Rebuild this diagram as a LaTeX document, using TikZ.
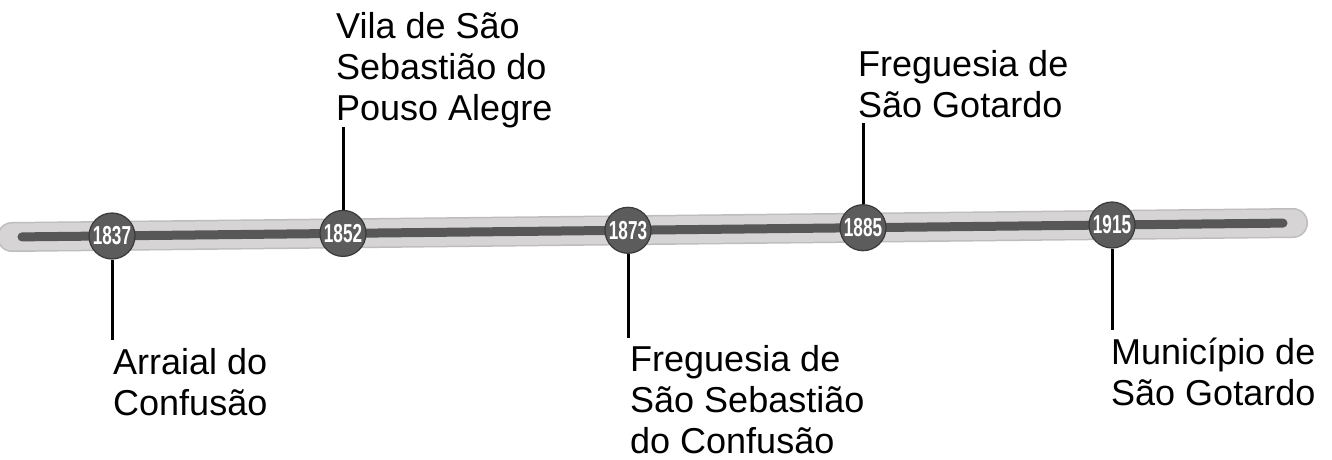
\documentclass[tikz,border=0pt]{standalone}
\usepackage{fontspec}
\usepackage{graphicx}
\setmainfont{Liberation Sans}
\usetikzlibrary{calc}
\definecolor{barEdge}{HTML}{BDBDBD}
\definecolor{barLight}{HTML}{D6D4D4}
\definecolor{barDark}{HTML}{575757}
\definecolor{ballFill}{HTML}{5C5C5C}
\definecolor{ballEdge}{HTML}{3A3A3A}
\begin{document}
\begin{tikzpicture}[x=1pt,y=1pt,
  ball/.style={circle, minimum size=46pt, inner sep=0pt, fill=ballFill, draw=ballEdge, line width=1.2pt,
    text=white, font=\fontsize{26}{26}\selectfont\bfseries},
  stem/.style={line width=3pt, black},
  lbl/.style={anchor=base west, inner sep=0pt, align=left, font=\fontsize{36}{41}\selectfont}]
\useasboundingbox (0,0) rectangle (1332,459);
\fill[white] (0,0) rectangle (1332,459);
% bar
\coordinate (L) at (12,222);
\coordinate (R) at (1293,236);
\draw[line width=30pt, line cap=round, barEdge] (L) -- (R);
\draw[line width=27pt, line cap=round, barLight] (L) -- (R);
\draw[line width=9pt, line cap=round, barDark] ($(L)!10pt!(R)$) -- ($(R)!10pt!(L)$);
% balls
\node[ball] (y1837) at (112,223) {\scalebox{0.66}[1]{1837}};
\node[ball] (y1852) at (343,225.6) {\scalebox{0.66}[1]{1852}};
\node[ball] (y1873) at (628,228.7) {\scalebox{0.66}[1]{1873}};
\node[ball] (y1885) at (863,231.3) {\scalebox{0.66}[1]{1885}};
\node[ball] (y1915) at (1112,234) {\scalebox{0.66}[1]{1915}};
% stem ends
\coordinate (e1837) at (112,119);
\coordinate (e1852) at (343,332);
\coordinate (e1873) at (628,121);
\coordinate (e1885) at (863,336);
\coordinate (e1915) at (1112,129);
\draw[stem] (y1837.south) -- (e1837);
\draw[stem] (y1852.north) -- (e1852);
\draw[stem] (y1873.south) -- (e1873);
\draw[stem] (y1885.north) -- (e1885);
\draw[stem] (y1915.south) -- (e1915);
% labels (anchor = baseline of the last line)
\node[lbl] (t1837) at (113,44) {Arraial do\\Confusão};
\node[lbl] (t1852) at (336,339) {Vila de São\\Sebastião do\\Pouso Alegre};
\node[lbl] (t1873) at (630,6) {Freguesia de\\São Sebastião\\do Confusão};
\node[lbl] (t1885) at (858,342) {Freguesia de\\São Gotardo};
\node[lbl] (t1915) at (1111,54) {Município de\\São Gotardo};
\end{tikzpicture}
\end{document}
